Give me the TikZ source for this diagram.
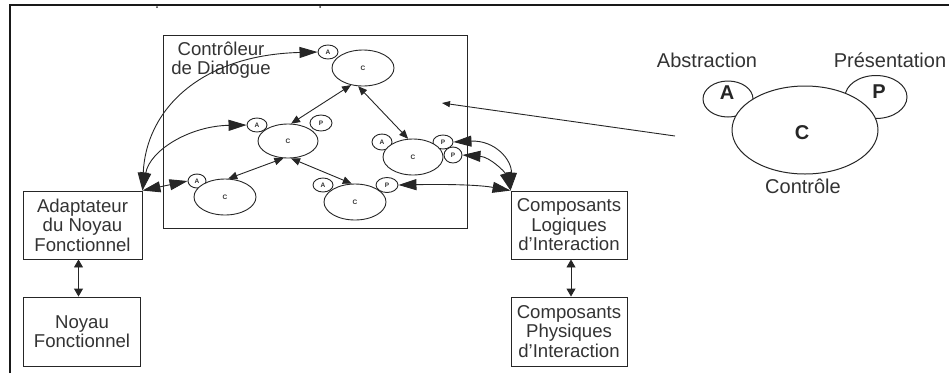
\documentclass[tikz,border=0pt]{standalone}
\usepackage{fontspec}
\setmainfont{Liberation Sans}
\usetikzlibrary{arrows.meta,shapes.geometric}
\begin{document}
\begin{tikzpicture}[x=1pt,y=-1pt,
  ink/.style={draw=black!85, line width=0.9pt},
  blockbox/.style={ink, rectangle, inner sep=0pt, align=center,
    font=\fontsize{18.6}{19.5}\selectfont, text=black!80},
  agell/.style={ink, ellipse, fill=white, inner sep=0pt,
    font=\fontsize{6.5}{6.5}\selectfont\bfseries, text=black!80},
  bigell/.style={draw=black!85, line width=1pt, ellipse, fill=white, inner sep=0pt},
  lbl/.style={inner sep=0pt, font=\fontsize{20}{20}\selectfont, text=black!80, anchor=base},
  biglet/.style={inner sep=0pt, font=\fontsize{20}{20}\selectfont\bfseries, text=black!85},
  dbl/.style={ink, {Triangle[length=18pt,width=11pt]}-{Triangle[length=18pt,width=11pt]}},
  dblsmall/.style={ink, {Triangle[length=9pt,width=7.5pt]}-{Triangle[length=9pt,width=7.5pt]}},
  dblvert/.style={ink, {Triangle[length=8pt,width=9pt]}-{Triangle[length=8pt,width=9pt]}},
  single/.style={ink, -{Triangle[length=8pt,width=6pt]}}
]
\useasboundingbox (0,0) rectangle (949,373);
% outer frame
\draw[draw=black!90, line width=1.3pt] (10,373) -- (10,5) -- (949,5);
\fill[black!80] (157,7) circle (1pt) (320,7) circle (1pt);

% dialogue controller
\node[ink, rectangle, minimum width=304pt, minimum height=193pt, inner sep=0pt] (dlg) at (315,131.5) {};
\node[blockbox, draw=none] (dlgtxt) at (221,60) {Contrôleur\\de Dialogue};

% boxes
\node[blockbox, minimum width=119pt, minimum height=68pt] (adapt) at (82.5,225) {Adaptateur\\du Noyau\\Fonctionnel};
\node[blockbox, minimum width=117pt, minimum height=69pt] (noyau) at (82,331.5) {Noyau\\Fonctionnel};
\node[blockbox, minimum width=116pt, minimum height=68pt] (logi) at (569,225) {Composants\\Logiques\\d'Interaction};
\node[blockbox, minimum width=116pt, minimum height=69pt] (phys) at (569,331.5) {Composants\\Physiques\\d'Interaction};

% agents: facets first, then control on top
\node[agell, minimum width=20pt, minimum height=14pt] (a1) at (328,52) {A};
\node[agell, minimum width=62pt, minimum height=36pt] (c1) at (363,68) {C};

\node[agell, minimum width=20pt, minimum height=14pt] (a2) at (257,125) {A};
\node[agell, minimum width=22pt, minimum height=16pt] (p2) at (321,123) {P};
\node[agell, minimum width=60pt, minimum height=34pt] (c2) at (288,141) {C};

\node[agell, minimum width=18pt, minimum height=14pt] (a3) at (197,181) {A};
\node[agell, minimum width=62pt, minimum height=36pt] (c3) at (225,197) {C};

\node[agell, minimum width=20pt, minimum height=14pt] (a4) at (323,185) {A};
\node[agell, minimum width=22pt, minimum height=15pt] (p4) at (387,185) {P};
\node[agell, minimum width=62pt, minimum height=36pt] (c4) at (355,202) {C};

\node[agell, minimum width=20pt, minimum height=16pt] (a5) at (382,142) {A};
\node[agell, minimum width=20pt, minimum height=14pt] (p5a) at (443,142) {P};
\node[agell, minimum width=18pt, minimum height=16pt] (p5b) at (453,155) {P};
\node[agell, minimum width=60pt, minimum height=36pt] (c5) at (413,157) {C};

% internal connectors
\draw[dblsmall] (c1.235) -- (c2.80);
\draw[dblsmall] (c1.255) -- (c5.105);
\draw[dblsmall] (c2.255) -- (c3.80);
\draw[dblsmall] (c2.280) -- (c4.100);

% left connectors
\draw[dbl] (adapt.north east) .. controls (146,110) and (200,55) .. (a1.west);
\draw[dbl] (adapt.north east) .. controls (150,150) and (190,126) .. (a2.west);
\draw[dbl] (adapt.north east) -- (a3.west);

% right connectors
\draw[dbl] (p5a.east) .. controls (495,140) and (512,160) .. (logi.north west);
\draw[dbl] (p5b.east) .. controls (490,157) and (505,172) .. (logi.north west);
\draw[dbl] (p4.east) .. controls (450,184) and (480,185) .. (logi.north west);

% vertical connectors
\draw[dblvert] ([xshift=-4pt]adapt.south) -- ([xshift=-4pt]adapt.south |- noyau.north);
\draw[dblvert] ([xshift=2pt]logi.south) -- ([xshift=2pt]logi.south |- phys.north);

% legend agent
\node[bigell, minimum width=50pt, minimum height=36pt] (la) at (728,99) {};
\node[bigell, minimum width=62pt, minimum height=43pt] (lp) at (876,97) {};
\node[bigell, minimum width=146pt, minimum height=88pt] (lc) at (805,130) {};
\node[biglet] (lat) at (727,93) {A};
\node[biglet] (lpt) at (879,92) {P};
\node[biglet] (lct) at (802,133) {C};
\node[lbl] (labs) at (707,67) {Abstraction};
\node[lbl] (lpres) at (890,67) {Présentation};
\node[lbl] (lctrl) at (803,193) {Contrôle};

% pointer arrow
\coordinate (pstart) at (675,136);
\coordinate (ptip) at (442,103);
\draw[single] (pstart) -- (ptip);
\end{tikzpicture}
\end{document}
